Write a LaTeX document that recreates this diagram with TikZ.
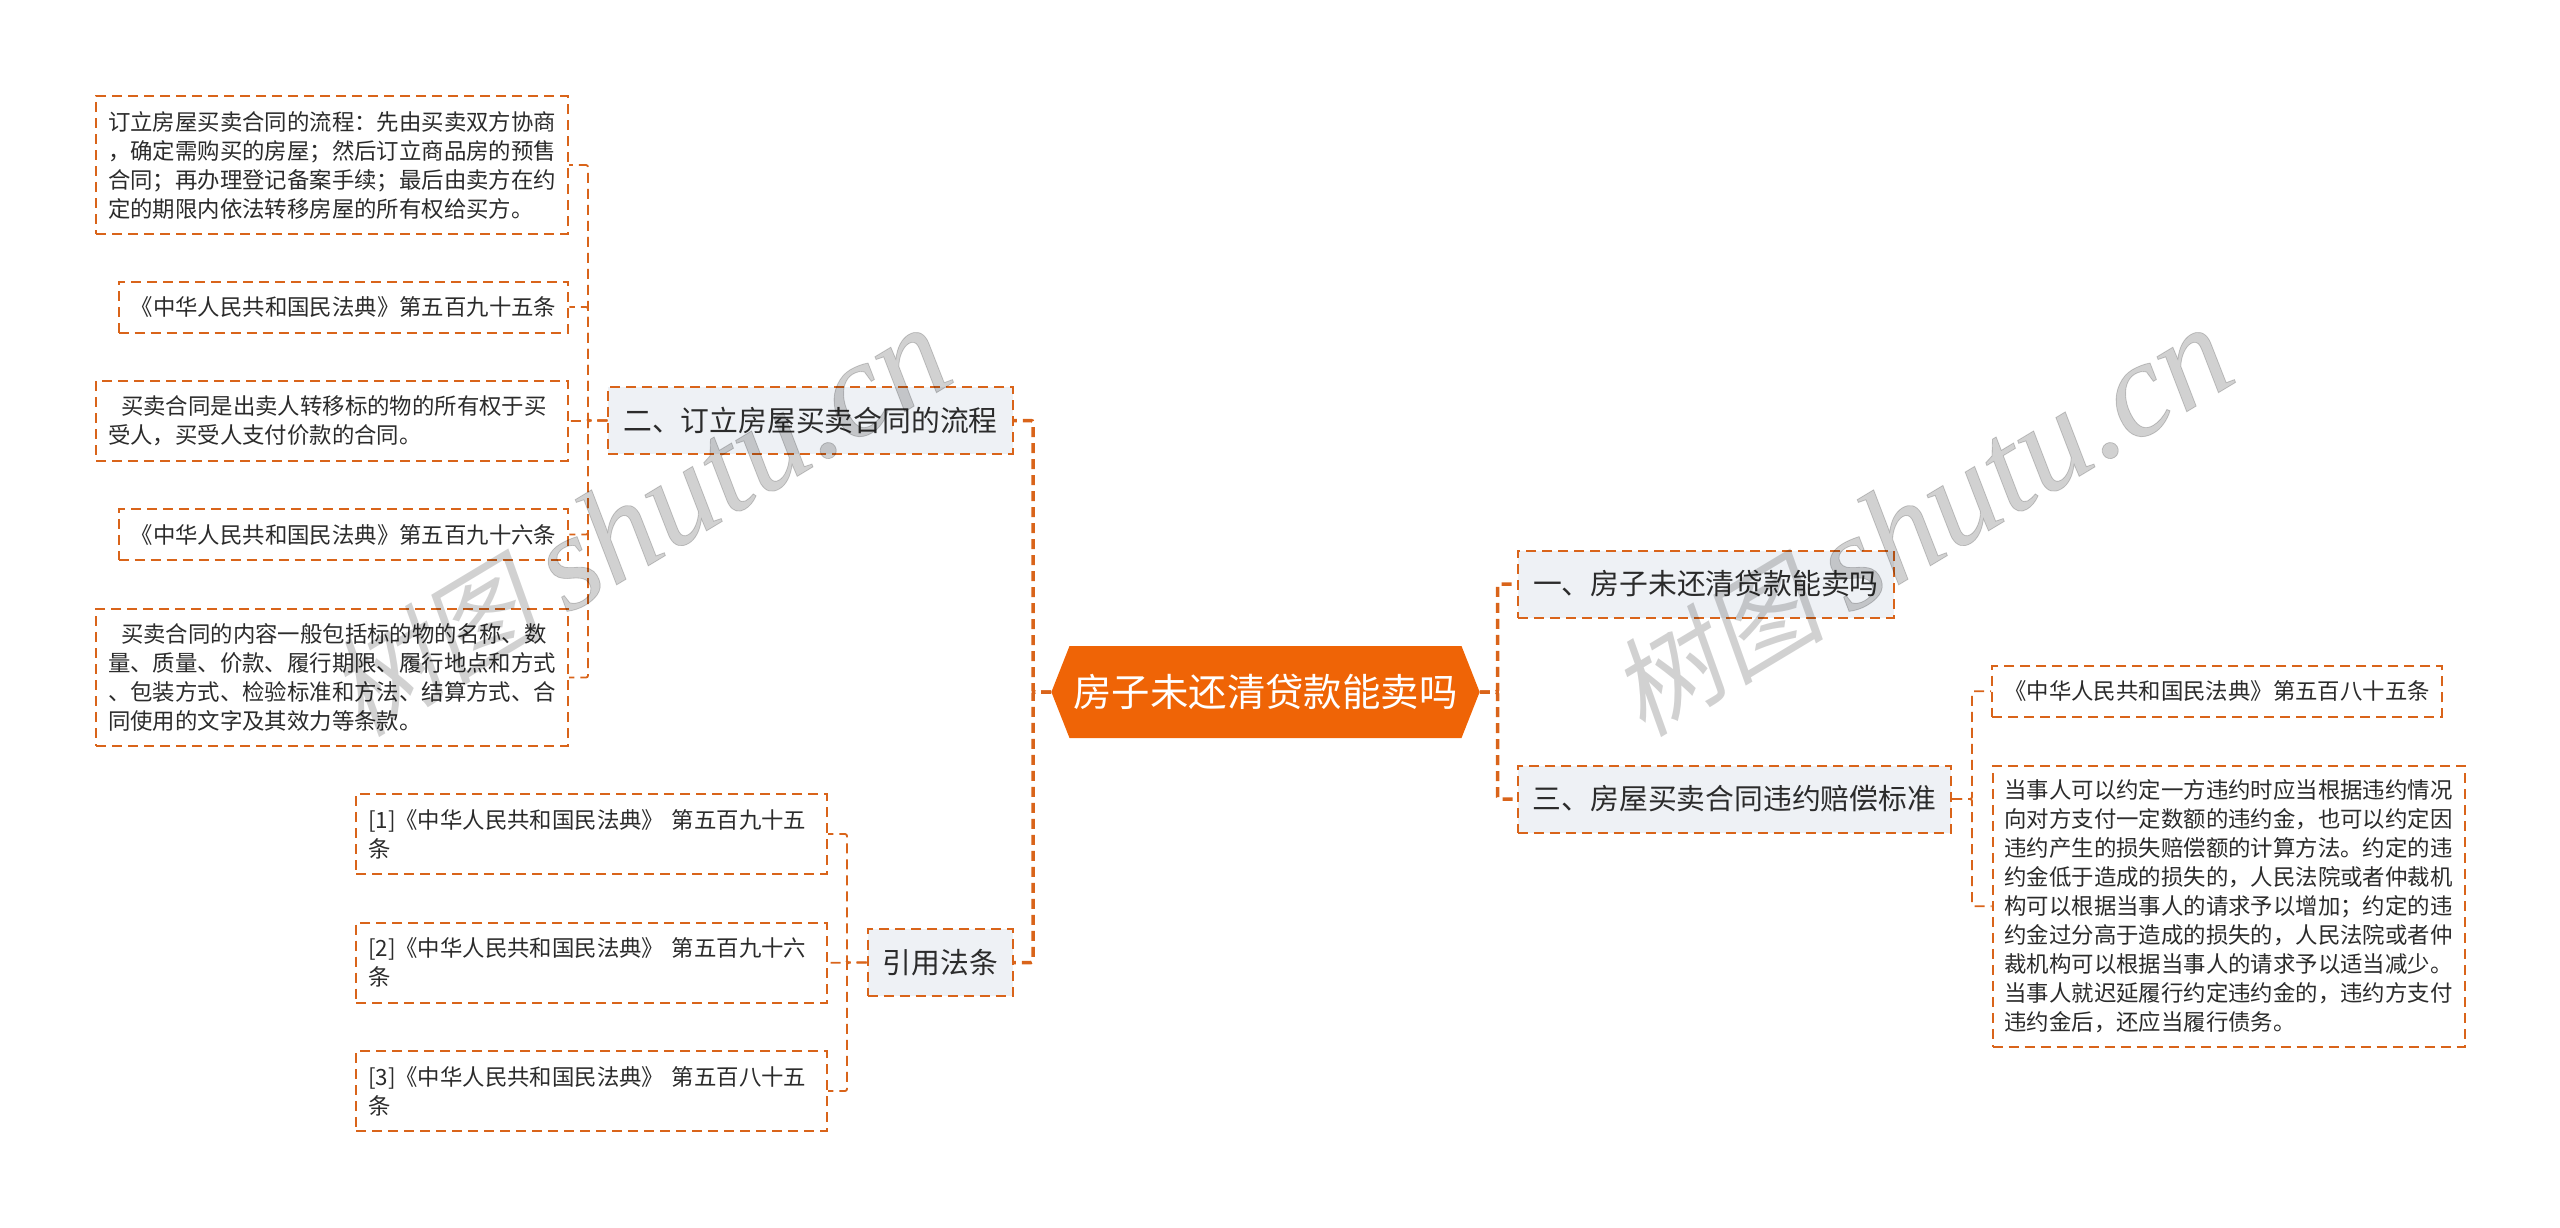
\documentclass[tikz,border=0pt]{standalone}
\usepackage{fontspec}
\setmainfont{Noto Sans CJK SC}
\newfontfamily\markcjk[FakeSlant=0.2]{Noto Sans CJK SC}
\newfontfamily\marklatin[FakeBold=0.6]{Liberation Serif}
\usetikzlibrary{shapes.symbols}
\definecolor{linec}{HTML}{D9641A}
\definecolor{rootc}{HTML}{EF6406}
\definecolor{branchc}{HTML}{EEF1F5}
\definecolor{textc}{HTML}{2B2B2B}
\tikzset{
	rootbox/.style={shape=signal,signal to=west and east,signal pointer angle=137,fill=rootc,text=white,font=\fontsize{38.4}{46}\selectfont,minimum height=92pt,inner xsep=4pt,inner ysep=0pt},
	branchbox/.style={draw=linec,line width=2pt,dash pattern=on 10pt off 6pt,fill=branchc,text=textc,font=\fontsize{28.8}{36}\selectfont,inner xsep=15pt,inner ysep=0pt,minimum height=67pt},
	leafbox/.style={draw=linec,line width=2pt,dash pattern=on 10pt off 6pt,text=textc,font=\fontsize{22.4}{29}\selectfont,align=left,inner xsep=12pt,inner ysep=0pt,minimum height=#1},
	rootline/.style={draw=linec,line width=3.5pt,dash pattern=on 10pt off 6pt,rounded corners=2pt},
	leafline/.style={draw=linec,line width=1.8pt,dash pattern=on 10pt off 6pt,rounded corners=2pt},
	markc/.style={text=black,text opacity=0.18,rotate=31,font=\fontsize{136}{136}\selectfont,inner sep=0pt}
}
\begin{document}
\begin{tikzpicture}[x=1pt,y=-1pt]
	\useasboundingbox (0,0) rectangle (2560,1227);
	\node[rootbox] (0) at (1265.5,692) {房子未还清贷款能卖吗};
	\node[branchbox] (1) at (1705.8,584) {一、房子未还清贷款能卖吗};
	\node[branchbox] (2) at (810.5,420.5) {二、订立房屋买卖合同的流程};
	\node[branchbox] (3) at (1734.5,799) {三、房屋买卖合同违约赔偿标准};
	\node[branchbox] (4) at (940.3,962.5) {引用法条};
	\node[leafbox=138pt,text width=448pt] (21) at (332,165) {订立房屋买卖合同的流程^^^^ff1a先由买卖双方协商\\^^^^ff0c确定需购买的房屋^^^^ff1b然后订立商品房的预售\\合同^^^^ff1b再办理登记备案手续^^^^ff1b最后由卖方在约\\定的期限内依法转移房屋的所有权给买方。};
	\node[leafbox=51pt] (22) at (343.5,307) {《中华人民共和国民法典》第五百九十五条};
	\node[leafbox=80pt,text width=448pt] (23) at (332,421) {\hspace*{13pt}买卖合同是出卖人转移标的物的所有权于买\\受人^^^^ff0c买受人支付价款的合同。};
	\node[leafbox=51pt] (24) at (343.5,534.5) {《中华人民共和国民法典》第五百九十六条};
	\node[leafbox=137pt,text width=448pt] (25) at (332,677.5) {\hspace*{13pt}买卖合同的内容一般包括标的物的名称、数\\量、质量、价款、履行期限、履行地点和方式\\、包装方式、检验标准和方法、结算方式、合\\同使用的文字及其效力等条款。};
	\node[leafbox=80pt,text width=447pt] (41) at (591.5,834) {[1]《中华人民共和国民法典》 第五百九十五\\条};
	\node[leafbox=80pt,text width=447pt] (42) at (591.5,962.7) {[2]《中华人民共和国民法典》 第五百九十六\\条};
	\node[leafbox=80pt,text width=447pt] (43) at (591.5,1091) {[3]《中华人民共和国民法典》 第五百八十五\\条};
	\node[leafbox=51pt] (31) at (2217,691.2) {《中华人民共和国民法典》第五百八十五条};
	\node[leafbox=281pt,text width=448pt] (32) at (2228.5,906.3) {当事人可以约定一方违约时应当根据违约情况\\向对方支付一定数额的违约金^^^^ff0c也可以约定因\\违约产生的损失赔偿额的计算方法。约定的违\\约金低于造成的损失的^^^^ff0c人民法院或者仲裁机\\构可以根据当事人的请求予以增加^^^^ff1b约定的违\\约金过分高于造成的损失的^^^^ff0c人民法院或者仲\\裁机构可以根据当事人的请求予以适当减少。\\当事人就迟延履行约定违约金的^^^^ff0c违约方支付\\违约金后^^^^ff0c还应当履行债务。};
	\coordinate (r0) at (1497.6,692);
	\coordinate (l0) at (1033,692);
	\coordinate (t2) at (588,420.5);
	\coordinate (t3) at (1972,799);
	\coordinate (t4) at (847,962.5);
	\draw [rootline] (0.east)--(r0)|-(1.west);
	\draw [rootline] (0.east)--(r0)|-(3.west);
	\draw [rootline] (0.west)--(l0)|-(2.east);
	\draw [rootline] (0.west)--(l0)|-(4.east);
	\draw [leafline] (2.west)--(t2)|-(21.east);
	\draw [leafline] (2.west)--(t2)|-(22.east);
	\draw [leafline] (2.west)--(t2)|-(23.east);
	\draw [leafline] (2.west)--(t2)|-(24.east);
	\draw [leafline] (2.west)--(t2)|-(25.east);
	\draw [leafline] (4.west)--(t4)|-(41.east);
	\draw [leafline] (4.west)--(t4)|-(42.east);
	\draw [leafline] (4.west)--(t4)|-(43.east);
	\draw [leafline] (3.east)--(t3)|-(31.west);
	\draw [leafline] (3.east)--(t3)|-(32.west);
	\node[markc] (m1) at (638,522) {{\markcjk\fontsize{108}{108}\selectfont 树图}\hspace{24pt}\marklatin\itshape shutu.cn};
	\node[markc] (m2) at (1920,522) {{\markcjk\fontsize{108}{108}\selectfont 树图}\hspace{24pt}\marklatin\itshape shutu.cn};
\end{tikzpicture}
\end{document}
